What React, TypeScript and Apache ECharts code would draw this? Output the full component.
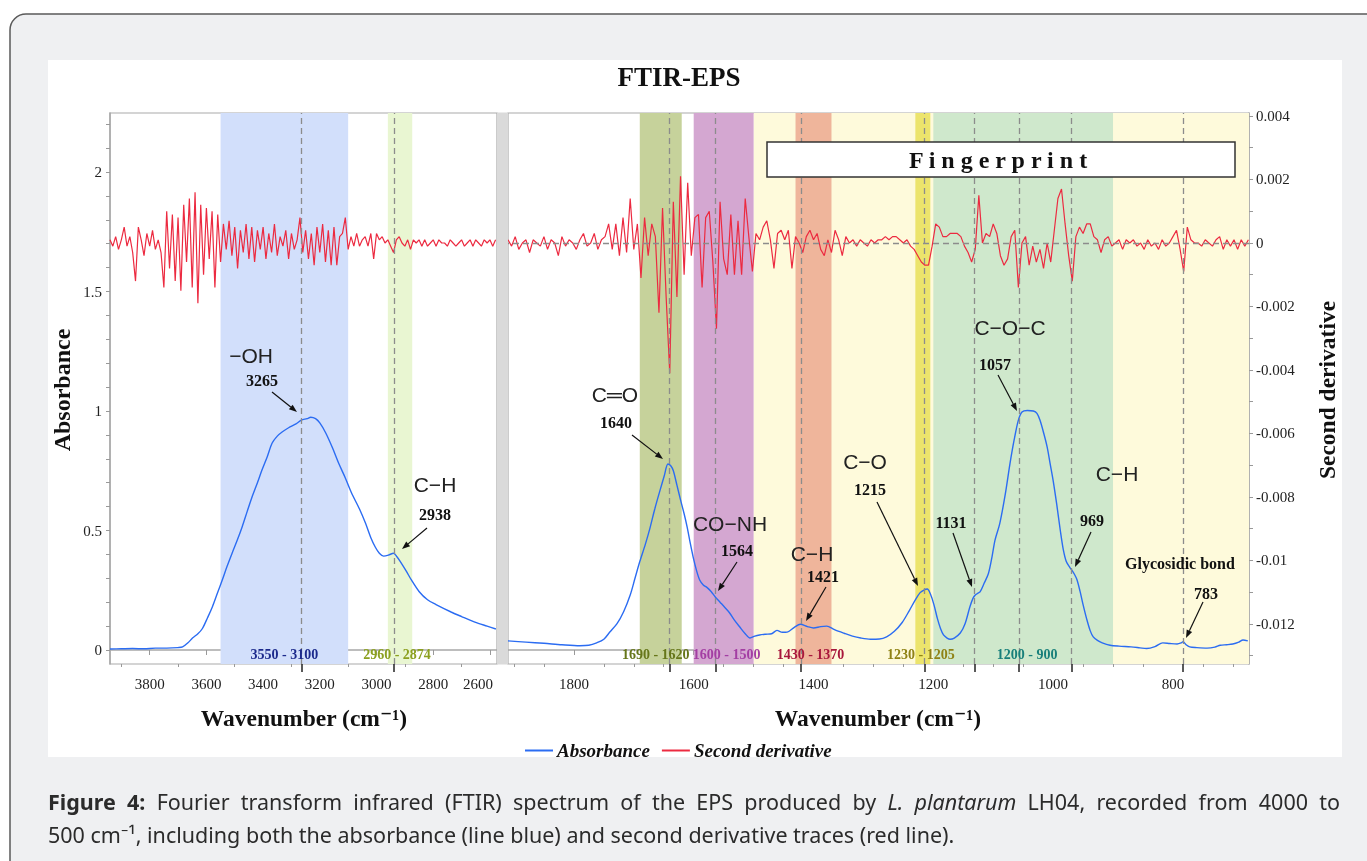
import React, { useEffect, useRef } from "react";
import * as echarts from "echarts";

// ---------------- DATA ----------------
const TITLE = "FTIR-EPS";
const LEFT_X_RANGE = [2575, 3940];
const RIGHT_X_RANGE = [673, 1910];
const ABS_RANGE = [-0.0586, 2.247];
const DERIV_RANGE = [-0.01326, 0.004094];

const LEFT_X_LABELS = [3800, 3600, 3400, 3200, 3000, 2800, 2600];
const LEFT_X_MINOR = [3900, 3700, 3500, 3300, 3100, 2900, 2700];
const RIGHT_X_LABELS = [1800, 1600, 1400, 1200, 1000, 800];
const RIGHT_X_MINOR = [1900, 1850, 1750, 1700, 1650, 1550, 1500, 1450, 1350, 1300, 1250, 1150, 1100, 1050, 950, 900, 850, 750, 700];
const ABS_LABELS = [0, 0.5, 1, 1.5, 2];
const ABS_TICKS = [0, 0.1, 0.2, 0.3, 0.4, 0.5, 0.6, 0.7, 0.8, 0.9, 1, 1.1, 1.2, 1.3, 1.4, 1.5, 1.6, 1.7, 1.8, 1.9, 2, 2.1, 2.2];
const DERIV_LABELS = [0.004, 0.002, 0, -0.002, -0.004, -0.006, -0.008, -0.01, -0.012];
const DERIV_TICKS = [0.004, 0.003, 0.002, 0.001, 0, -0.001, -0.002, -0.003, -0.004, -0.005, -0.006, -0.007, -0.008, -0.009, -0.01, -0.011, -0.012, -0.013];

const PEAKS_LEFT = [3265, 2938];
const PEAKS_RIGHT = [1640, 1564, 1421, 1215, 1131, 1057, 969, 783];

const BANDS_LEFT = [[3550, 3100], [2960, 2874]];
const BANDS_RIGHT = [[1690, 1620], [1600, 1500], [1430, 1370], [1230, 1205], [1200, 900]];
const FINGERPRINT_RANGE = [1500, 673];

// Absorbance [wavenumber, absorbance]
const ABS_LEFT = [
  [3940, 0.004], [3900, 0.005], [3860, 0.006], [3820, 0.005], [3780, 0.008], [3740, 0.008], [3700, 0.01], [3684, 0.013],
  [3665, 0.03], [3649, 0.05], [3630, 0.068], [3614, 0.09], [3596, 0.135], [3579, 0.18], [3562, 0.235], [3544, 0.293],
  [3527, 0.35], [3509, 0.406], [3491, 0.46], [3474, 0.515], [3456, 0.58], [3439, 0.64], [3420, 0.7], [3404, 0.753],
  [3385, 0.81], [3368, 0.866], [3350, 0.895], [3333, 0.912], [3310, 0.93], [3284, 0.946], [3265, 0.962], [3245, 0.968],
  [3232, 0.974], [3215, 0.968], [3200, 0.95], [3179, 0.908], [3155, 0.845], [3133, 0.78], [3110, 0.72], [3088, 0.657],
  [3060, 0.59], [3039, 0.531], [3020, 0.47], [3004, 0.43], [2990, 0.405], [2975, 0.393], [2958, 0.397], [2940, 0.405],
  [2928, 0.39], [2916, 0.37], [2895, 0.33], [2877, 0.293], [2850, 0.245], [2820, 0.21], [2790, 0.19], [2737, 0.159],
  [2700, 0.14], [2653, 0.117], [2610, 0.1], [2579, 0.088],
];
const ABS_RIGHT = [
  [1910, 0.038], [1880, 0.033], [1850, 0.028], [1820, 0.022], [1790, 0.018], [1775, 0.02], [1762, 0.03], [1750, 0.045],
  [1740, 0.075], [1728, 0.11], [1717, 0.16], [1706, 0.23], [1698, 0.3], [1690, 0.37], [1681, 0.44], [1673, 0.51],
  [1665, 0.59], [1656, 0.67], [1649, 0.73], [1643, 0.778], [1638, 0.77], [1634, 0.75], [1628, 0.69], [1622, 0.628],
  [1616, 0.57], [1611, 0.515], [1606, 0.45], [1601, 0.39], [1595, 0.33], [1590, 0.293], [1584, 0.272], [1578, 0.262],
  [1571, 0.245], [1564, 0.222], [1556, 0.2], [1548, 0.178], [1540, 0.155], [1532, 0.125], [1523, 0.096], [1514, 0.068],
  [1506, 0.05], [1498, 0.058], [1490, 0.063], [1480, 0.066], [1470, 0.068], [1461, 0.082], [1452, 0.074], [1444, 0.075],
  [1432, 0.095], [1422, 0.108], [1410, 0.098], [1400, 0.092], [1388, 0.098], [1378, 0.1], [1365, 0.085], [1349, 0.07],
  [1335, 0.058], [1321, 0.05], [1305, 0.045], [1290, 0.046], [1278, 0.055], [1265, 0.078], [1252, 0.115], [1240, 0.165],
  [1230, 0.21], [1222, 0.24], [1215, 0.252], [1210, 0.255], [1205, 0.235], [1199, 0.19], [1193, 0.13], [1188, 0.09],
  [1183, 0.063], [1177, 0.05], [1172, 0.045], [1165, 0.05], [1155, 0.071], [1147, 0.11], [1139, 0.18], [1134, 0.215],
  [1130, 0.23], [1126, 0.237], [1122, 0.243], [1115, 0.28], [1108, 0.32], [1102, 0.39], [1097, 0.46], [1089, 0.53],
  [1080, 0.65], [1072, 0.78], [1065, 0.88], [1058, 0.962], [1052, 0.996], [1043, 1.002], [1033, 1.0], [1027, 0.99],
  [1022, 0.962], [1016, 0.91], [1010, 0.85], [1005, 0.78], [1000, 0.71], [994, 0.61], [988, 0.5], [983, 0.42],
  [978, 0.37], [972, 0.345], [969, 0.335], [964, 0.315], [960, 0.293], [955, 0.245], [950, 0.19], [944, 0.13],
  [938, 0.08], [933, 0.055], [926, 0.04], [918, 0.03], [905, 0.02], [890, 0.016], [870, 0.013], [855, 0.009],
  [844, 0.006], [830, 0.014], [817, 0.03], [805, 0.027], [793, 0.025], [786, 0.03], [783, 0.035], [778, 0.022],
  [772, 0.013], [760, 0.01], [743, 0.008], [730, 0.012], [721, 0.02], [710, 0.022], [700, 0.025], [690, 0.033],
  [683, 0.042], [675, 0.038],
];

// Second derivative, sampled every DERIV_STEP cm-1, values in units of 1e-4
const DERIV_UNIT = 1e-4;
const DERIV_LEFT_START = 3940;
const DERIV_LEFT_STEP = 10;
const DERIV_LEFT = [
  1, -1, 2, -2, 1, 5, -1, 2, -3, -12,
  5, 1, -4, 3, -1, 4, -2, 1, -3, -14,
  10, -8, 9, -12, 8, -15, 12, -6, 14, -14,
  16, -19, 12, -10, 11, -5, 10, -14, 9, -6,
  6, -2, 7, -4, 5, -8, 4, -3, 6, -5,
  5, -6, 4, -2, 5, -5, 3, -3, 6, -4,
  2, -1, 4, -5, 3, -2, 1, 8, -3, 4,
  -5, 3, -7, 5, -3, 6, -6, 4, -7, 5,
  -7, 2, 3, 8, -2, 2, -1, 3, -1, 1,
  2, -1, 3, -5, 3, 1, 2, 0, 1, -1,
  -3, 1, 2, 0, -1, 1, -2, 1, 0, 1,
  -1, 1, -1, 0, 1, -1, 1, 0, 0, -1,
  1, 0, -1, 0, 1, -1, 0, 1, -1, 1,
  0, -1, 1, 0, 1, -1, 1,
];
const DERIV_RIGHT_START = 1910;
const DERIV_RIGHT_STEP = 6;
const DERIV_RIGHT = [
  1, -1, 2, -2, 0, 1, -3, 1, 0, -1,
  2, -2, 1, 0, -4, 2, -1, 1, 0, -2,
  1, 3, -1, 0, 3, -2, 1, 2, 6, -2,
  6, -4, 8, -3, 14, -2, 6, -11, 8, -4,
  6, 2, -22, 11, -17, -41, 13, -17, 21, -10,
  19, -4, 8, 9, -14, 8, 10, -6, -27, 13,
  -5, -10, 9, -10, 7, -10, 14, 2, -9, 3,
  1, 5, 7, 1, -8, 3, 4, 1, 4, -8,
  2, 0, -3, 2, 4, 1, 3, -2, -4, 1,
  -3, 4, 1, -4, 2, 0, 1, -1, 1, 0,
  -1, 1, 0, 1, 1, 2, 1, 2, 2, 1,
  0, 1, -1, -2, -4, -6, -7, -7, -1, 6,
  5, 2, 2, 3, 3, 3, 2, -1, -3, -6,
  -2, 15, 0, 3, 2, 6, 3, -4, -7, -5,
  2, 4, -14, 0, 2, -7, -1, -6, -2, -8,
  0, -6, 4, 14, 17, 6, -4, -12, 2, 5,
  3, 6, 6, 2, 1, -3, 1, 2, -1, 0,
  1, -2, 1, 0, 1, -1, 0, -2, 1, -1,
  0, -2, 1, -1, 0, 2, 4, -2, -9, 5,
  1, 0, 0, -1, 1, 0, -1, 1, 2, -2,
  1, -1, 1, -2, 1, -1, 1,
];

const ANNOTATION_TEXTS = [
  { group: "\u2212OH", num: "3265" },
  { group: "C\u2212H", num: "2938" },
  { group: "C\u2550O", num: "1640" },
  { group: "CO\u2212NH", num: "1564" },
  { group: "C\u2212H", num: "1421" },
  { group: "C\u2212O", num: "1215" },
  { group: "", num: "1131" },
  { group: "C\u2212O\u2212C", num: "1057" },
  { group: "C\u2212H", num: "969" },
  { group: "Glycosidic bond", num: "783" },
];

const CAPTION_LINE1 = [
  { t: "Figure", b: true }, { t: "4:", b: true }, { t: "Fourier" }, { t: "transform" }, { t: "infrared" },
  { t: "(FTIR)" }, { t: "spectrum" }, { t: "of" }, { t: "the" }, { t: "EPS" }, { t: "produced" }, { t: "by" },
  { t: "L.", i: true }, { t: "plantarum", i: true }, { t: "LH04," }, { t: "recorded" }, { t: "from" },
  { t: "4000" }, { t: "to" },
];
const CAPTION_LINE2 = "500 cm\u207B\u00B9, including both the absorbance (line blue) and second derivative traces (red line).";

// ---------------- STYLE / LAYOUT ----------------
const SERIF = '"Liberation Serif", "DejaVu Serif", serif';
const SANS = '"Liberation Sans", "DejaVu Sans", sans-serif';
const CAP_FAMILY = "Noto Sans";
const CAP_SIZE = 21.5;
const BLUE = "#2b6cf2";
const RED = "#ec2a40";
const BAND_FILL_LEFT = ["#d2dffb", "#e9f6d2"];
const BAND_TEXT_LEFT = ["#1c2a8c", "#8ca020"];
const BAND_FILL_RIGHT = ["#c6d29b", "#d4a7d1", "#efb59b", "#ece46c", "#cfe8cc"];
const BAND_TEXT_RIGHT = ["#66761a", "#a33ea3", "#a8173c", "#8f8215", "#187f7a"];
const FP_FILL = "#fefadb";
const DASH = { color: "#8c8c8c", width: 1.3, type: [6, 4] as any };

const ANNOT_LAYOUT = [
  { g: [251, 355], n: [262, 380], tail: [272, 392], head: [297, 412] },
  { g: [435, 484], n: [435, 514], tail: [427, 528], head: [402, 549] },
  { g: [615, 394], n: [616, 422], tail: [632, 435], head: [663, 459] },
  { g: [730, 523], n: [737, 550], tail: [737, 562], head: [718, 591] },
  { g: [812, 553], n: [823, 576], tail: [826, 587], head: [806, 621] },
  { g: [865, 461], n: [870, 489], tail: [877, 502], head: [918, 586] },
  { g: [0, 0], n: [951, 522], tail: [953, 533], head: [972, 587] },
  { g: [1010, 327], n: [995, 364], tail: [998, 375], head: [1017, 411] },
  { g: [1117, 473], n: [1092, 520], tail: [1091, 532], head: [1075, 567] },
  { g: [1180, 563], n: [1206, 593], tail: [1203, 602], head: [1186, 638] },
];

function buildOption() {
  const derivLeft = DERIV_LEFT.map((v, i) => [DERIV_LEFT_START - i * DERIV_LEFT_STEP, v * DERIV_UNIT]);
  const derivRight = DERIV_RIGHT.map((v, i) => [DERIV_RIGHT_START - i * DERIV_RIGHT_STEP, v * DERIV_UNIT]);

  const labelStyle = { fontFamily: SERIF, fontSize: 15, color: "#222" };
  const shownLine = { show: true, lineStyle: { color: "#a8a8a8", width: 1.5 } };

  const xMain = (grid: number, range: number[], labels: number[], shiftLast: boolean) => ({
    type: "value", gridIndex: grid, min: range[0], max: range[1], inverse: true, position: "bottom",
    axisLine: shownLine,
    axisTick: { show: true, customValues: labels, length: 5, lineStyle: { color: "#999" } },
    axisLabel: {
      customValues: labels, margin: 12, ...labelStyle,
      formatter: (v: number) => (shiftLast && v === labels[labels.length - 1] ? `{s|${v}}` : `${v}`),
      rich: { s: { ...labelStyle, padding: [0, 24, 0, 0] } },
    },
    splitLine: { show: false },
  });
  const xExtra = (grid: number, range: number[], ticks: number[], len: number, color: string, width: number) => ({
    type: "value", gridIndex: grid, min: range[0], max: range[1], inverse: true, position: "bottom", offset: 0,
    axisLine: { show: false, onZero: false },
    axisTick: { show: true, customValues: ticks, length: len, lineStyle: { color, width } },
    axisLabel: { show: false }, splitLine: { show: false },
  });

  const bandsLeft = BANDS_LEFT.map((b, i) => [
    { xAxis: b[0], itemStyle: { color: BAND_FILL_LEFT[i] } }, { xAxis: b[1] },
  ]);
  const bandsRight = [
    [{ xAxis: FINGERPRINT_RANGE[0], itemStyle: { color: FP_FILL } }, { xAxis: FINGERPRINT_RANGE[1] }],
    ...BANDS_RIGHT.map((b, i) => [{ xAxis: b[0], itemStyle: { color: BAND_FILL_RIGHT[i] } }, { xAxis: b[1] }]),
  ];

  const markLineBase = { silent: true, symbol: ["none", "none"], label: { show: false }, lineStyle: DASH, animation: false };

  return {
    animation: false,
    grid: [
      { left: 110, top: 113, width: 387, height: 551, show: true, backgroundColor: "#fff", borderColor: "#aaa", borderWidth: 1.2 },
      { left: 508, top: 113, width: 741, height: 551, show: true, backgroundColor: "#fff", borderColor: "#aaa", borderWidth: 1.2 },
    ],
    xAxis: [
      xMain(0, LEFT_X_RANGE, LEFT_X_LABELS, true),
      xExtra(0, LEFT_X_RANGE, LEFT_X_MINOR, 3, "#999", 1),
      xExtra(0, LEFT_X_RANGE, PEAKS_LEFT, 8, "#222", 1.5),
      xMain(1, RIGHT_X_RANGE, RIGHT_X_LABELS, false),
      xExtra(1, RIGHT_X_RANGE, RIGHT_X_MINOR, 3, "#999", 1),
      xExtra(1, RIGHT_X_RANGE, PEAKS_RIGHT, 8, "#222", 1.5),
    ],
    yAxis: [
      {
        type: "value", gridIndex: 0, min: ABS_RANGE[0], max: ABS_RANGE[1], position: "left",
        axisLine: shownLine,
        axisTick: { show: true, customValues: ABS_TICKS, length: 4, lineStyle: { color: "#999" } },
        axisLabel: { customValues: ABS_LABELS, margin: 8, ...labelStyle },
        splitLine: { show: false },
      },
      { type: "value", gridIndex: 0, min: DERIV_RANGE[0], max: DERIV_RANGE[1], show: false, splitLine: { show: false } },
      { type: "value", gridIndex: 1, min: ABS_RANGE[0], max: ABS_RANGE[1], show: false, splitLine: { show: false } },
      {
        type: "value", gridIndex: 1, min: DERIV_RANGE[0], max: DERIV_RANGE[1], position: "right",
        axisLine: shownLine,
        axisTick: { show: true, customValues: DERIV_TICKS, length: 4, lineStyle: { color: "#999" } },
        axisLabel: { customValues: DERIV_LABELS, margin: 7, ...labelStyle },
        splitLine: { show: false },
      },
    ],
    legend: {
      data: ["Absorbance", "Second derivative"], left: 520, top: 736, icon: "rect", itemWidth: 28, itemHeight: 2,
      itemGap: 12, textStyle: { fontFamily: SERIF, fontStyle: "italic", fontWeight: "bold", fontSize: 19, color: "#111", padding: [0, 0, 0, -1] },
      selectedMode: false,
    },
    series: [
      {
        type: "line", name: "bandsL", xAxisIndex: 0, yAxisIndex: 0, data: [], z: 1, silent: true,
        markArea: { silent: true, label: { show: false }, data: bandsLeft },
        markLine: { ...markLineBase, data: PEAKS_LEFT.map((p) => ({ xAxis: p })) },
      },
      {
        type: "line", name: "bandsR", xAxisIndex: 3, yAxisIndex: 2, data: [], z: 1, silent: true,
        markArea: { silent: true, label: { show: false }, data: bandsRight },
        markLine: { ...markLineBase, data: PEAKS_RIGHT.map((p) => ({ xAxis: p })) },
      },
      {
        type: "line", name: "Second derivative", xAxisIndex: 0, yAxisIndex: 1, data: derivLeft, showSymbol: false,
        color: RED, lineStyle: { color: RED, width: 1.2 }, z: 3,
      },
      {
        type: "line", name: "Second derivative", xAxisIndex: 3, yAxisIndex: 3, data: derivRight, showSymbol: false,
        color: RED, lineStyle: { color: RED, width: 1.2 }, z: 3,
        markLine: { ...markLineBase, data: [{ yAxis: 0 }] },
      },
      {
        type: "line", name: "Absorbance", xAxisIndex: 0, yAxisIndex: 0, data: ABS_LEFT, showSymbol: false, smooth: 0.3,
        color: BLUE, lineStyle: { color: BLUE, width: 1.4 }, z: 4,
      },
      {
        type: "line", name: "Absorbance", xAxisIndex: 3, yAxisIndex: 2, data: ABS_RIGHT, showSymbol: false, smooth: 0.3,
        color: BLUE, lineStyle: { color: BLUE, width: 1.4 }, z: 4,
      },
    ],
  };
}

function text(x: number, y: number, s: string, opts: any = {}) {
  return {
    type: "text", x, y, z: 100, silent: true, rotation: opts.rotation || 0,
    style: {
      text: s, fill: opts.fill || "#111", fontFamily: opts.family || SERIF, fontSize: opts.size || 15,
      fontWeight: opts.weight || "normal", fontStyle: opts.style || "normal",
      textAlign: opts.align || "center", textVerticalAlign: "middle",
    },
  };
}

function arrow(tail: number[], head: number[]) {
  const dx = head[0] - tail[0], dy = head[1] - tail[1];
  const L = Math.sqrt(dx * dx + dy * dy);
  const ux = dx / L, uy = dy / L;
  const bx = head[0] - ux * 8, by = head[1] - uy * 8;
  const nx = -uy * 3, ny = ux * 3;
  return [
    { type: "line", z: 100, silent: true, shape: { x1: tail[0], y1: tail[1], x2: bx, y2: by }, style: { stroke: "#111", lineWidth: 1.2 } },
    { type: "polygon", z: 100, silent: true, shape: { points: [[head[0], head[1]], [bx + nx, by + ny], [bx - nx, by - ny]] }, style: { fill: "#111" } },
  ];
}

function buildGraphics(chart: any) {
  const els: any[] = [];
  els.push({ type: "rect", z: -100, silent: true, shape: { x: 10, y: 14, width: 1400, height: 900, r: 16 }, style: { fill: "#eff0f2", stroke: "#5a5a5a", lineWidth: 1.5 } });
  els.push({ type: "rect", z: -99, silent: true, shape: { x: 48, y: 60, width: 1294, height: 697 }, style: { fill: "#ffffff" } });

  els.push({ type: "rect", z: 90, silent: true, shape: { x: 497, y: 112.5, width: 11, height: 552 }, style: { fill: "#dadada" } });

  els.push(text(679, 77, TITLE, { size: 27, weight: "bold" }));
  els.push(text(62, 390, "Absorbance", { size: 24, weight: "bold", rotation: Math.PI / 2 }));
  els.push(text(1327, 390, "Second derivative", { size: 23.5, weight: "bold", rotation: Math.PI / 2 }));
  els.push(text(304, 718, "Wavenumber (cm\u207B\u00B9)", { size: 23.5, weight: "bold" }));
  els.push(text(878, 718, "Wavenumber (cm\u207B\u00B9)", { size: 23.5, weight: "bold" }));

  els.push({ type: "rect", z: 95, silent: true, shape: { x: 767, y: 142, width: 468, height: 35 }, style: { fill: "#fff", stroke: "#333", lineWidth: 1.5 } });
  els.push(text(998, 160, "F i n g e r p r i n t", { size: 24, weight: "bold" }));

  const xpx = (axis: number, v: number) => chart.convertToPixel({ xAxisIndex: axis }, v) as number;
  BANDS_LEFT.forEach((b, i) => {
    const cx = (xpx(0, b[0]) + xpx(0, b[1])) / 2;
    els.push(text(cx - (i === 1 ? 3 : 0), 654, `${b[0]} - ${b[1]}`, { size: 14, weight: "bold", fill: BAND_TEXT_LEFT[i] }));
  });
  BANDS_RIGHT.forEach((b, i) => {
    const cx = (xpx(3, b[0]) + xpx(3, b[1])) / 2;
    const shift = [-5, 3, -3, -2, 4][i];
    els.push(text(cx + shift, 654, `${b[0]} - ${b[1]}`, { size: 14, weight: "bold", fill: BAND_TEXT_RIGHT[i] }));
  });

  ANNOTATION_TEXTS.forEach((a, i) => {
    const L = ANNOT_LAYOUT[i];
    if (a.group) {
      if (a.group === "Glycosidic bond") els.push(text(L.g[0], L.g[1], a.group, { size: 16, weight: "bold" }));
      else els.push(text(L.g[0], L.g[1], a.group, { size: 21, family: SANS, fill: "#222" }));
    }
    els.push(text(L.n[0], L.n[1], a.num, { size: 16, weight: "bold" }));
    els.push(...arrow(L.tail, L.head));
  });

  // caption (first line justified between x=48 and x=1340)
  const fontOf = (w: any) => `${w.i ? "italic " : ""}${w.b ? "bold " : ""}${CAP_SIZE}px ${CAP_FAMILY}`;
  const measured = CAPTION_LINE1.map((w) => {
    const el = new (echarts.graphic as any).Text({ style: { text: w.t, font: fontOf(w) } });
    return el.getBoundingRect().width as number;
  });
  const total = measured.reduce((s, v) => s + v, 0);
  const gap = (1340 - 48 - total) / (CAPTION_LINE1.length - 1);
  let cx = 48;
  CAPTION_LINE1.forEach((w, i) => {
    els.push(text(cx, 801, w.t, { family: CAP_FAMILY, size: CAP_SIZE, weight: w.b ? "bold" : "normal", style: w.i ? "italic" : "normal", align: "left", fill: "#2b2b2b" }));
    cx += measured[i] + gap;
  });
  els.push(text(48, 834, CAPTION_LINE2, { family: CAP_FAMILY, size: CAP_SIZE, align: "left", fill: "#2b2b2b" }));
  return els;
}

export default function App() {
  const ref = useRef<HTMLDivElement>(null);
  useEffect(() => {
    if (!ref.current) return;
    const chart = echarts.init(ref.current, null, { renderer: "svg" });
    chart.setOption(buildOption() as any);
    chart.setOption({ graphic: buildGraphics(chart) } as any);
    return () => chart.dispose();
  }, []);
  return <div ref={ref} style={{ position: "fixed", left: 0, top: 0, width: 1367, height: 861 }} />;
}
